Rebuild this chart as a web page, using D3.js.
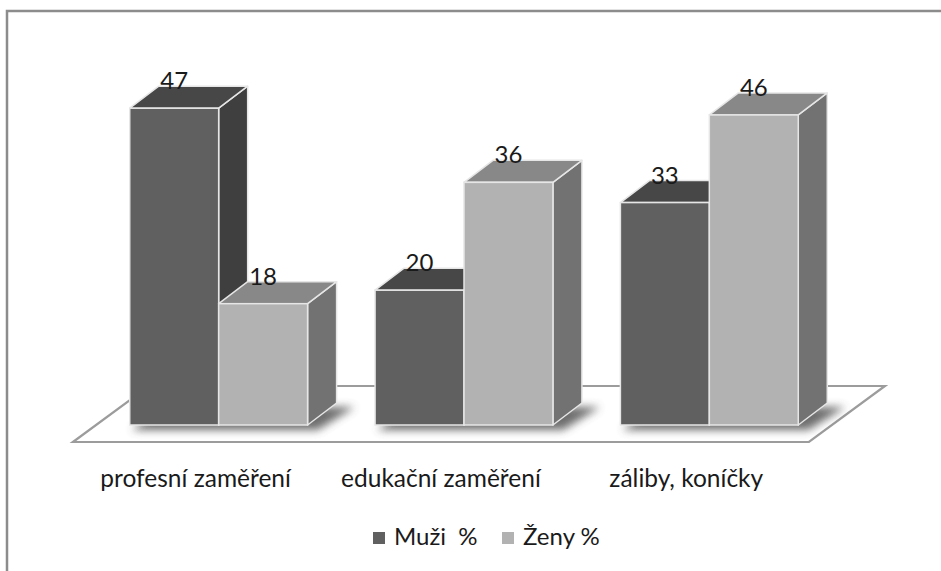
<!DOCTYPE html>
<html>
<head>
<meta charset="utf-8">
<script src="https://cdn.jsdelivr.net/npm/d3@7"></script>
<style>
  html, body { margin: 0; padding: 0; background: #fff; }
  svg { display: block; }
  text { font-family: Lato, "Open Sans", "Noto Sans", sans-serif; fill: #1a1a1a; }
</style>
</head>
<body>
<svg id="chart" width="941" height="571"></svg>
<script>
// ---- data ----
const categories = ["profesní zaměření", "edukační zaměření", "záliby, koníčky"];
const seriesNames = ["Muži  %", "Ženy %"];
const muzi = [47, 20, 33];
const zeny = [18, 36, 46];
const yDomain = [0, 50];

// ---- styles ----
const colors = {
  front: ["#606060", "#b2b2b2"],
  top:   ["#474747", "#888888"],
  side:  ["#3f3f3f", "#727272"]
};

const svg = d3.select("#chart");

// outer border (extends past right/bottom of the picture)
svg.append("rect")
  .attr("x", 7).attr("y", 11).attr("width", 980).attr("height", 620)
  .attr("fill", "none").attr("stroke", "#8c8c8c").attr("stroke-width", 2.5);

// 3D depth of bars
const dx = 29, dy = 22;
// floor
const floorFrontY = 442, floorBackY = 386;
const floorDx = 76;
const baseY = 425;           // bar front baseline
const shiftFront = (floorFrontY - baseY) * floorDx / (floorFrontY - floorBackY);

const x0 = d3.scaleBand().domain(categories)
  .range([96, 832]).paddingInner(0.275).paddingOuter(0.1375);
const x1 = d3.scaleBand().domain(seriesNames).range([0, x0.bandwidth()]);
const y = d3.scaleLinear().domain(yDomain).range([baseY, 88]);

const defs = svg.append("defs");
const blur = defs.append("filter").attr("id", "blur")
  .attr("x", "-20%").attr("y", "-50%").attr("width", "140%").attr("height", "200%");
blur.append("feGaussianBlur").attr("stdDeviation", 4);

// floor
const fl = x0.range()[0] - shiftFront;
const fr = x0.range()[1] - shiftFront;
svg.append("path")
  .attr("d", `M${fl},${floorFrontY} L${fr},${floorFrontY} L${fr + floorDx},${floorBackY} L${fl + floorDx},${floorBackY} Z`)
  .attr("fill", "#ffffff").attr("stroke", "#9c9c9c").attr("stroke-width", 2.2)
  .attr("stroke-linejoin", "miter");

// shadows under each group
categories.forEach(c => {
  const gx = x0(c);
  const w = x0.bandwidth();
  svg.append("path")
    .attr("d", `M${gx + 2},${baseY + 5} L${gx + w + 10},${baseY + 5} L${gx + w + dx + 18},${baseY - dy + 4} L${gx + dx + 4},${baseY - dy + 4} Z`)
    .attr("fill", "#4a4a4a").attr("opacity", 0.8).attr("filter", "url(#blur)");
});

// bars
const data = [];
categories.forEach((c, i) => {
  data.push({ cat: c, s: 0, v: muzi[i] });
  data.push({ cat: c, s: 1, v: zeny[i] });
});

const bars = svg.append("g").selectAll("g").data(data).join("g");
const edge = "#e6e6e6";
bars.each(function(d) {
  const g = d3.select(this);
  const xl = x0(d.cat) + x1(seriesNames[d.s]);
  const xr = xl + x1.bandwidth();
  const yt = y(d.v), yb = y(0);
  g.append("path")
    .attr("d", `M${xr},${yt} L${xr + dx},${yt - dy} L${xr + dx},${yb - dy} L${xr},${yb} Z`)
    .attr("fill", colors.side[d.s]).attr("stroke", edge).attr("stroke-width", 1.5).attr("stroke-linejoin", "round");
  g.append("path")
    .attr("d", `M${xl},${yt} L${xl + dx},${yt - dy} L${xr + dx},${yt - dy} L${xr},${yt} Z`)
    .attr("fill", colors.top[d.s]).attr("stroke", edge).attr("stroke-width", 1.5).attr("stroke-linejoin", "round");
  g.append("rect")
    .attr("x", xl).attr("y", yt).attr("width", xr - xl).attr("height", yb - yt)
    .attr("fill", colors.front[d.s]).attr("stroke", edge).attr("stroke-width", 1.5);
});

// value labels
svg.append("g").selectAll("text").data(data).join("text")
  .attr("x", d => x0(d.cat) + x1(seriesNames[d.s]) + x1.bandwidth() / 2)
  .attr("y", d => y(d.v) - dy + 3)
  .attr("text-anchor", "middle")
  .attr("font-size", 24)
  .text(d => d.v);

// category labels
svg.append("g").selectAll("text").data(categories).join("text")
  .attr("x", c => x0(c) + x0.bandwidth() / 2 - shiftFront)
  .attr("y", 487)
  .attr("text-anchor", "middle")
  .attr("font-size", 24.5)
  .text(c => c);

// legend
const legX = [373, 502];
const leg = svg.append("g").selectAll("g").data(seriesNames).join("g");
leg.append("rect")
  .attr("x", (d, i) => legX[i]).attr("y", 532)
  .attr("width", 12).attr("height", 12)
  .attr("fill", (d, i) => colors.front[i]);
leg.append("text")
  .attr("x", (d, i) => legX[i] + 21).attr("y", 545)
  .attr("font-size", 24)
  .style("white-space", "pre")
  .text(d => d);
</script>
</body>
</html>
